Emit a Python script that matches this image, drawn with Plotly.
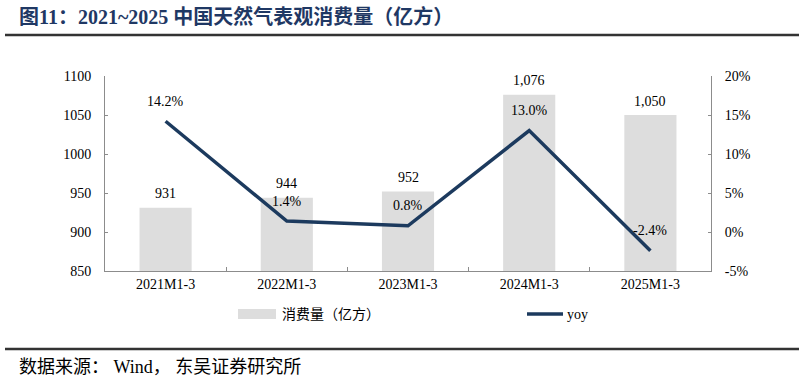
import plotly.graph_objects as go

categories = ["2021M1-3", "2022M1-3", "2023M1-3", "2024M1-3", "2025M1-3"]
consumption = [931, 944, 952, 1076, 1050]
yoy = [14.2, 1.4, 0.8, 13.0, -2.4]
left_ticks = [850, 900, 950, 1000, 1050, 1100]
right_ticks = [-5, 0, 5, 10, 15, 20]

title_text = "图11：2021~2025 中国天然气表观消费量（亿方）"
footer_text = "数据来源： Wind， 东吴证券研究所"
bar_name = "消费量（亿方）"
line_name = "yoy"

SERIF = "Liberation Serif, Noto Sans CJK SC, serif"
CJK = "Liberation Serif, Noto Sans CJK SC, sans-serif"
BAR_C = "#DDDDDD"
LINE_C = "#1C3A5E"
AX_C = "#8C8C8C"

fig = go.Figure()
fig.add_trace(go.Bar(x=categories, y=consumption, name=bar_name,
                     marker=dict(color=BAR_C, line=dict(width=0)),
                     width=0.43, showlegend=False, hoverinfo="skip"))
fig.add_trace(go.Scatter(x=categories, y=yoy, name=line_name, yaxis="y2",
                         mode="lines", line=dict(color=LINE_C, width=3.5),
                         showlegend=False, hoverinfo="skip"))

ann = []
for c, v in zip(categories, consumption):
    ann.append(dict(x=c, y=v, xref="x", yref="y", text=f"{v:,}", showarrow=False,
                    yanchor="middle", yshift=14, font=dict(family=SERIF, size=14, color="#000")))
for c, v in zip(categories, yoy):
    ann.append(dict(x=c, y=v, xref="x", yref="y2", text=f"{v:.1f}%", showarrow=False,
                    yanchor="middle", yshift=20, font=dict(family=SERIF, size=14, color="#000")))

W, L, R, T, B = 805, 105, 711, 76, 271
def px(xp):
    return (xp - L) / (R - L)
def py(yp):
    return (B - yp) / (B - T)

ann.append(dict(x=px(17), y=py(16.5), xref="paper", yref="paper", text="<b>" + title_text + "</b>",
                showarrow=False, xanchor="left", yanchor="middle",
                font=dict(family=CJK, size=20, color="#1F3864")))
ann.append(dict(x=px(17), y=py(367), xref="paper", yref="paper", text=footer_text,
                showarrow=False, xanchor="left", yanchor="middle",
                font=dict(family=CJK, size=18, color="#000")))
ann.append(dict(x=px(280), y=py(314), xref="paper", yref="paper", text=bar_name,
                showarrow=False, xanchor="left", yanchor="middle",
                font=dict(family=CJK, size=14, color="#000")))
ann.append(dict(x=px(565), y=py(314), xref="paper", yref="paper", text=line_name,
                showarrow=False, xanchor="left", yanchor="middle",
                font=dict(family=SERIF, size=14, color="#000")))

shapes = [
    dict(type="rect", xref="paper", yref="paper", x0=px(238), x1=px(276), y0=py(309), y1=py(319),
         fillcolor=BAR_C, line=dict(width=0)),
    dict(type="line", xref="paper", yref="paper", x0=px(527), x1=px(563), y0=py(314), y1=py(314),
         line=dict(color=LINE_C, width=3.5)),
    dict(type="line", xref="paper", yref="paper", x0=px(5), x1=px(799), y0=py(35), y1=py(35),
         line=dict(color="#333333", width=2.5)),
    dict(type="line", xref="paper", yref="paper", x0=px(5), x1=px(799), y0=py(349), y1=py(349),
         line=dict(color="#333333", width=2.5)),
]

fig.update_layout(
    width=W, height=382,
    margin=dict(l=L, r=W - R, t=T, b=382 - B, pad=0),
    paper_bgcolor="white", plot_bgcolor="white",
    bargap=0.57,
    annotations=ann, shapes=shapes,
    xaxis=dict(showline=True, linecolor=AX_C, linewidth=1, ticks="inside", ticklen=4,
               tickcolor=AX_C, tickson="boundaries", showgrid=False,
               tickfont=dict(family=SERIF, size=14, color="#000"), fixedrange=True),
    yaxis=dict(range=[850, 1100], tickvals=left_ticks, showline=True, linecolor=AX_C,
               ticks="inside", ticklen=3, tickcolor=AX_C, showgrid=False, zeroline=False,
               tickfont=dict(family=SERIF, size=14, color="#000"), ticklabelstandoff=10),
    yaxis2=dict(range=[-5, 20], tickvals=right_ticks, ticktext=[f"{t}%" for t in right_ticks],
                overlaying="y", side="right", showline=True, linecolor=AX_C,
                ticks="inside", ticklen=3, tickcolor=AX_C, showgrid=False, zeroline=False,
                tickfont=dict(family=SERIF, size=14, color="#000"), ticklabelstandoff=10),
)

fig.write_html("out.html", config={"displayModeBar": False},
               post_script="document.body.style.margin='0';document.body.style.overflow='hidden';")
